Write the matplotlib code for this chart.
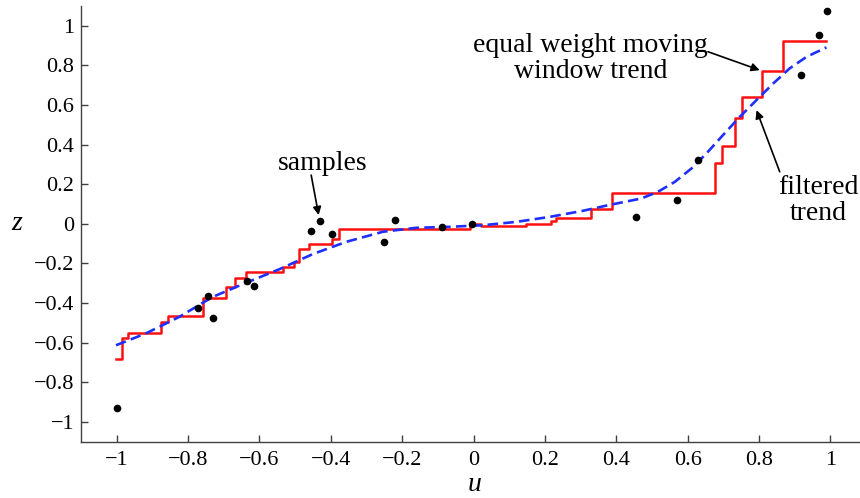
import numpy as np
import matplotlib
matplotlib.use('Agg')
import matplotlib.pyplot as plt
from matplotlib.ticker import FuncFormatter

# samples (u, z)
sample_u = [-1.0, -0.773, -0.743, -0.729, -0.635, -0.615, -0.455, -0.430, -0.398,
            -0.252, -0.220, -0.089, -0.004, 0.456, 0.571, 0.629, 0.917, 0.969, 0.990]
sample_z = [-0.931, -0.427, -0.365, -0.473, -0.289, -0.315, -0.038, 0.015, -0.051,
            -0.094, 0.020, -0.015, 0.0, 0.037, 0.120, 0.322, 0.751, 0.955, 1.076]

# equal weight moving window trend (step edges, steps-post)
window_u = [-1.002, -0.984, -0.968, -0.876, -0.855, -0.759, -0.694, -0.668, -0.638,
            -0.533, -0.504, -0.490, -0.460, -0.397, -0.376, -0.325, -0.011, 0.020,
            0.148, 0.217, 0.232, 0.330, 0.388, 0.676, 0.695, 0.732, 0.751, 0.807,
            0.868, 0.989]
window_z = [-0.684, -0.574, -0.549, -0.498, -0.466, -0.374, -0.321, -0.271, -0.242,
            -0.217, -0.192, -0.129, -0.104, -0.079, -0.028, -0.025, 0.0, -0.012,
            -0.003, 0.014, 0.031, 0.077, 0.155, 0.305, 0.392, 0.535, 0.638, 0.771,
            0.924, 0.924]

# filtered trend
filt_u = [-1.002, -0.918, -0.825, -0.731, -0.638, -0.544, -0.451, -0.357, -0.254,
          -0.161, -0.067, 0.026, 0.120, 0.213, 0.307, 0.377, 0.470, 0.517, 0.564,
          0.611, 0.653, 0.699, 0.746, 0.793, 0.840, 0.886, 0.933, 0.989]
filt_z = [-0.613, -0.553, -0.470, -0.369, -0.298, -0.229, -0.153, -0.091, -0.040,
          -0.020, -0.015, -0.007, 0.010, 0.035, 0.066, 0.094, 0.128, 0.162, 0.212,
          0.280, 0.356, 0.448, 0.540, 0.625, 0.709, 0.785, 0.843, 0.891]

ticks = np.round(np.arange(-1.0, 1.01, 0.2), 1)

plt.rcParams['font.family'] = ['Liberation Serif', 'DejaVu Serif']


def fmt(v, pos):
    s = f'{v:g}'
    if s in ('-0', '0'):
        return '0'
    return s.replace('-', '\u2212')


fig = plt.figure(figsize=(8.6, 4.98), dpi=100)
ax = fig.add_axes([0.0942, 0.113, 0.9058, 0.875])

ax.plot(window_u, window_z, color='#ff1010', lw=1.8, drawstyle='steps-post')
ax.plot(filt_u, filt_z, color='#1f2fff', lw=1.9, dashes=(4.0, 2.0))
ax.plot(sample_u, sample_z, 'o', color='k', markersize=4.5)

ax.set_xlim(-1.1, 1.083)
ax.set_ylim(-1.1, 1.1)
ax.set_xticks(ticks)
ax.set_yticks(ticks)
ax.xaxis.set_major_formatter(FuncFormatter(fmt))
ax.yaxis.set_major_formatter(FuncFormatter(fmt))
ax.tick_params(direction='in', length=5, width=1, labelsize=16, color='#404040')
ax.tick_params(axis='x', pad=7)
ax.tick_params(axis='y', pad=5)

for side in ['top', 'right']:
    ax.spines[side].set_visible(False)
for side in ['left', 'bottom']:
    ax.spines[side].set_color('#404040')
    ax.spines[side].set_linewidth(1.0)

ax.set_xlabel('u', fontsize=20, style='italic', va='center')
ax.set_ylabel('z', fontsize=20, style='italic', rotation=0, va='center')
ax.xaxis.set_label_coords(0.505, -0.098)
ax.yaxis.set_label_coords(-0.083, 0.5)

arrow = dict(arrowstyle='-|>', color='k', lw=1.2, mutation_scale=12, shrinkA=0, shrinkB=0)
ax.text(-0.423, 0.305, 'samples', fontsize=20, ha='center', va='center')
ax.annotate('', xy=(-0.434, 0.044), xytext=(-0.455, 0.246), arrowprops=arrow)
ax.text(0.328, 0.837, 'equal weight moving\nwindow trend', fontsize=20,
        ha='center', va='center', linespacing=1.05)
ax.annotate('', xy=(0.802, 0.776), xytext=(0.657, 0.869), arrowprops=arrow)
ax.text(0.966, 0.12, 'filtered\ntrend', fontsize=20, ha='center', va='center',
        linespacing=1.05)
ax.annotate('', xy=(0.793, 0.574), xytext=(0.858, 0.263), arrowprops=arrow)

fig.savefig('out.png', dpi=100)
